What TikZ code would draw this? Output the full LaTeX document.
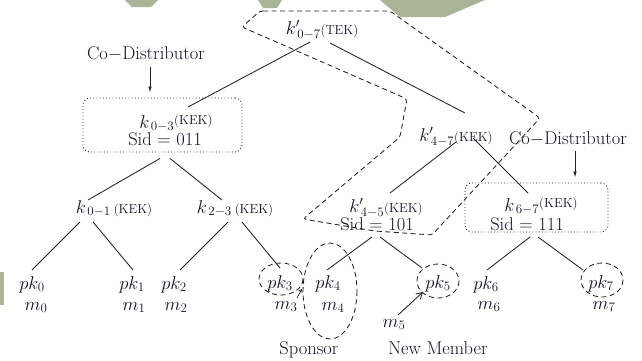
\RequirePackage{fix-cm}
\documentclass[tikz,border=0pt]{standalone}
\usetikzlibrary{arrows.meta}
\definecolor{ink}{HTML}{12122A}
\definecolor{edgec}{HTML}{222222}
\definecolor{wm}{HTML}{A9B596}
\newcommand{\keytag}[1]{{\fontsize{13}{15}\selectfont(#1)}}
\begin{document}
\begin{tikzpicture}[x=1pt,y=-1pt,
  lbl/.style={text=ink, inner sep=1pt, anchor=base, font=\fontsize{18.5}{22}\selectfont},
  treeline/.style={draw=edgec, line width=0.85pt},
  dashline/.style={draw=edgec, line width=0.85pt, dash pattern=on 5pt off 3.5pt},
  dotbox/.style={draw=edgec, line width=0.9pt, dash pattern=on 0.9pt off 2.3pt, rounded corners=7pt, inner sep=0pt},
  pointer/.style={draw=edgec, line width=0.85pt, -{Latex[length=6pt,width=3.5pt]}},
  barb/.style={draw=edgec, line width=0.85pt, -{Straight Barb[length=6pt,width=7pt]}}]
\useasboundingbox (0,0) rectangle (642,360);

% faint background marks
\fill[wm] (125,0) -- (158,0) -- (151,7) -- (132,7) -- cycle;
\fill[wm] (258,0) -- (282,0) -- (277,8) -- (263,8) -- cycle;
\fill[wm] (380,0) -- (485,0) -- (445,17) -- (400,17) -- cycle;
\fill[wm] (0,272) rectangle (4,305);

% key nodes
\node[lbl] (tek) at (322,34) {$k'_{\,0-7}$\keytag{TEK}};
\node[lbl] (k03) at (176,128) {$k_{\,0-3}$\raisebox{4pt}{\keytag{KEK}}};
\node[lbl] (sid03) at (165,145) {Sid = 011};
\node[lbl] (k47) at (456,141) {$k'_{\,4-7}$\keytag{KEK}};
\node[lbl] (k45) at (386,212) {$k'_{\,4-5}$\keytag{KEK}};
\node[lbl] (sid45) at (377,230) {Sid = 101};
\node[lbl] (k67) at (541,211) {$k_{\,6-7}$\raisebox{4pt}{\keytag{KEK}}};
\node[lbl] (sid67) at (527,230) {Sid = 111};
\node[lbl] (k01) at (114,213) {$k_{\,0-1}$\,\keytag{KEK}};
\node[lbl] (k23) at (235,213) {$k_{\,2-3}$\,\keytag{KEK}};

% dotted sub-tree boxes
\node[dotbox, minimum width=159pt, minimum height=54pt] (box03) at (162.5,125) {};
\node[dotbox, minimum width=143pt, minimum height=49pt] (box67) at (536.5,207.5) {};

% leaves
\node[lbl] (pk0) at (32,289) {$pk_0$};  \node[lbl] (m0) at (36,310) {$m_0$};
\node[lbl] (pk1) at (132,289) {$pk_1$}; \node[lbl] (m1) at (134,310) {$m_1$};
\node[lbl] (pk2) at (174,289) {$pk_2$}; \node[lbl] (m2) at (176,310) {$m_2$};
\node[lbl] (pk3) at (280,288) {$pk_3$}; \node[lbl] (m3) at (286,309) {$m_3$};
\node[lbl] (pk4) at (328,288) {$pk_4$}; \node[lbl] (m4) at (333,310) {$m_4$};
\node[lbl] (pk5) at (438,288) {$pk_5$}; \node[lbl] (m5) at (394,327) {$m_5$};
\node[lbl] (pk6) at (486,289) {$pk_6$}; \node[lbl] (m6) at (489,309) {$m_6$};
\node[lbl] (pk7) at (601,288) {$pk_7$}; \node[lbl] (m7) at (604,309) {$m_7$};

% captions
\node[lbl] (cd1) at (146,59) {Co$-$Distributor};
\node[lbl] (cd2) at (568,144) {Co$-$Distributor};
\node[lbl] (spon) at (309,354) {Sponsor};
\node[lbl] (newm) at (438,354) {New Member};

% tree edges
\draw[treeline] ([shift={(-12,8)}]tek.base) -- ([shift={(12,-21)}]k03.base);
\draw[treeline] ([shift={(8,9)}]tek.base) -- ([shift={(9,-28)}]k47.base);
\draw[treeline] ([shift={(-2.5,6)}]box03.south) -- ([shift={(-26,-13)}]k01.base);
\draw[treeline] ([shift={(7.5,6)}]box03.south) -- ([shift={(-13,-13)}]k23.base);
\draw[treeline] ([shift={(-34,9)}]k01.base) -- ([shift={(0,-19)}]pk0.base);
\draw[treeline] ([shift={(-21,9)}]k01.base) -- ([shift={(1,-19)}]pk1.base);
\draw[treeline] ([shift={(-7,9)}]k23.base) -- ([shift={(6,-19)}]pk2.base);
\draw[treeline] ([shift={(7,9)}]k23.base) -- ([shift={(0,-20)}]pk3.base);
\draw[treeline] ([shift={(0,1)}]k47.base) -- ([shift={(4,-19)}]k45.base);
\draw[treeline] ([shift={(17,-3)}]k47.base) -- ([shift={(-13,-18)}]k67.base);
\draw[treeline] ([shift={(-5,7)}]sid45.base) -- ([shift={(-1,-18)}]pk4.base);
\draw[treeline] ([shift={(3,7)}]sid45.base) -- ([shift={(-16,-20)}]pk5.base);
\draw[treeline] ([shift={(3,7)}]sid67.base) -- ([shift={(1,-19)}]pk6.base);
\draw[treeline] ([shift={(11,7)}]sid67.base) -- ([shift={(-18,-18)}]pk7.base);

% co-distributor pointers
\draw[pointer] ([shift={(4,8)}]cd1.base) -- ([shift={(-12.5,-5)}]box03.north);
\draw[pointer] ([shift={(7,7)}]cd2.base) -- ([shift={(38.5,-5)}]box67.north);

% new member's key and sponsor's key
\draw[barb] ([shift={(4,-12)}]m5.base) -- ([shift={(-15,4)}]pk5.base);
\draw[draw=edgec, line width=0.7pt, -{Straight Barb[length=3pt,width=4pt]}]
  ([shift={(11,-11)}]m3.base) -- ([shift={(22,1)}]pk3.base);

% region of renewed keys along the path to the new member
\draw[dashline, rounded corners=3pt] (260,11) -- (390,11) -- (540,118) -- (432,235)
  -- (375,231) -- (303,219) -- (400,137) -- (407,99) -- (242,27) -- cycle;

% marked leaves
\draw[dashline] ([shift={(1,-9)}]pk3.base) ellipse [x radius=22, y radius=16];
\draw[dashline] ([shift={(2,3)}]pk4.base) ellipse [x radius=27, y radius=48];
\draw[dashline] ([shift={(0,-7)}]pk5.base) ellipse [x radius=21, y radius=17];
\draw[dashline] ([shift={(1,-8)}]pk7.base) ellipse [x radius=21, y radius=17];
\end{tikzpicture}
\end{document}
